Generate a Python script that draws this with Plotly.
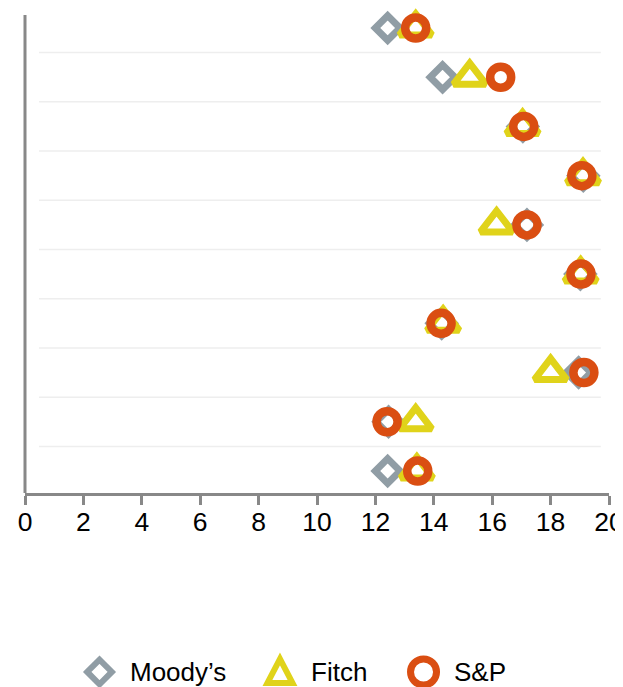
import plotly.graph_objects as go

rows = ["1", "2", "3", "4", "5", "6", "7", "8", "9", "10"]
moodys = [12.42, 14.30, 17.05, 19.12, 17.19, 19.02, 14.27, 18.96, 12.45, 12.42]
fitch = [13.38, 15.23, 17.04, 19.11, 16.15, 19.03, 14.32, 18.00, 13.38, 13.42]
sp = [13.38, 16.29, 17.08, 19.07, 17.19, 19.04, 14.25, 19.14, 12.40, 13.45]
series_names = ["Moody’s", "Fitch", "S&P"]
x_ticks = list(range(0, 21, 2))

GRAY = "#909DA5"
YELLOW = "#E0D31A"
ORANGE = "#DA4E12"
AXIS = "#888888"
FONT = "Liberation Sans, Arial, sans-serif"

fig = go.Figure()
fig.add_trace(go.Scatter(
    x=moodys, y=rows, mode="markers", name=series_names[0], cliponaxis=False,
    marker=dict(symbol="diamond-open", size=19, color=GRAY, line=dict(width=7, color=GRAY)),
))
fig.add_trace(go.Scatter(
    x=fitch, y=rows, mode="markers", name=series_names[1], cliponaxis=False,
    marker=dict(symbol="triangle-up-open", size=28, color=YELLOW, line=dict(width=7, color=YELLOW)),
))
fig.add_trace(go.Scatter(
    x=sp, y=rows, mode="markers", name=series_names[2], cliponaxis=False,
    marker=dict(symbol="circle-open", size=21, color=ORANGE, line=dict(width=8.5, color=ORANGE)),
))

shapes = []
for i in range(len(rows) - 1):
    shapes.append(dict(type="line", xref="paper", yref="y", x0=0.024, x1=0.986,
                       y0=i + 0.5, y1=i + 0.5, line=dict(color="#EEEEEE", width=1.5), layer="below"))
shapes.append(dict(type="line", xref="paper", yref="paper", x0=0, x1=0, y0=0, y1=0.9856,
                   line=dict(color=AXIS, width=3)))

# manual legend (large symbols)
LEG_Y = -0.369
sym_x = [0.1276, 0.4366, 0.6824]
txt_x = [0.1764, 0.4863, 0.7312]
shapes.append(dict(type="path", xref="paper", yref="paper", xsizemode="pixel", ysizemode="pixel",
                   xanchor=sym_x[0], yanchor=LEG_Y,
                   path="M -12.3 0 L 0 12.3 L 12.3 0 L 0 -12.3 Z",
                   line=dict(color=GRAY, width=6)))
shapes.append(dict(type="path", xref="paper", yref="paper", xsizemode="pixel", ysizemode="pixel",
                   xanchor=sym_x[1], yanchor=LEG_Y,
                   path="M -12.5 -11 L 12.5 -11 L 0 13 Z",
                   line=dict(color=YELLOW, width=6)))
shapes.append(dict(type="circle", xref="paper", yref="paper", xsizemode="pixel", ysizemode="pixel",
                   xanchor=sym_x[2], yanchor=LEG_Y, x0=-13, x1=13, y0=-13, y1=13,
                   line=dict(color=ORANGE, width=7)))

annotations = []
for name, tx in zip(series_names, txt_x):
    annotations.append(dict(text=name, xref="paper", yref="paper", x=tx, y=LEG_Y,
                            xanchor="left", yanchor="middle", showarrow=False,
                            font=dict(size=26, color="black", family=FONT)))

fig.update_layout(
    width=623, height=679,
    margin=dict(l=17, r=22, t=0, b=194, pad=0, autoexpand=False),
    plot_bgcolor="white", paper_bgcolor="white",
    font=dict(family=FONT, size=26.5, color="black"),
    shapes=shapes,
    annotations=annotations,
    showlegend=False,
    xaxis=dict(range=[0, 20], tickvals=x_ticks, showgrid=False, zeroline=False, automargin=False,
               showline=True, linecolor=AXIS, linewidth=3, ticks="outside", ticklen=9,
               tickwidth=3, tickcolor=AXIS, ticklabelstandoff=-6, ticklabeloverflow="allow",
               tickfont=dict(size=26.5, color="black")),
    yaxis=dict(type="category", categoryarray=rows, categoryorder="array", range=[9.447, -0.406],
               automargin=False,
               showticklabels=False, showgrid=False, zeroline=False, showline=False, ticks=""),
)

fig.write_html("out.html")
